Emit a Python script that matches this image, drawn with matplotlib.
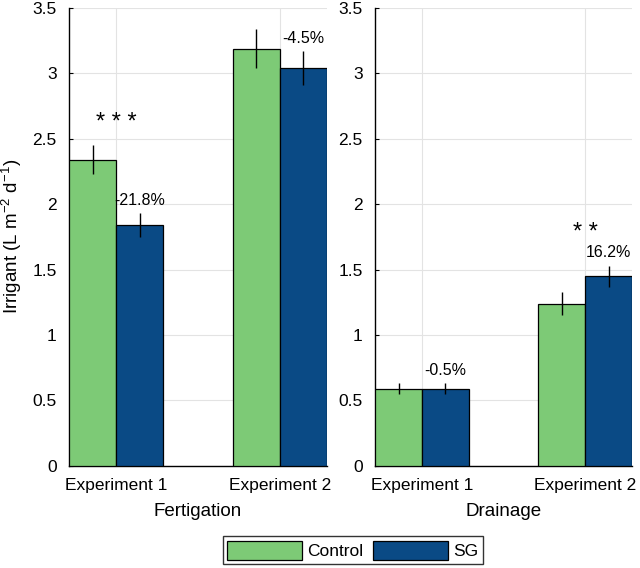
import numpy as np
import matplotlib.pyplot as plt

plt.rcParams['font.family'] = ['Liberation Sans', 'DejaVu Sans']

# data
experiments = ["Experiment 1", "Experiment 2"]
panels = ["Fertigation", "Drainage"]
control_mean = [[2.34, 3.19], [0.59, 1.24]]
control_err = [[0.11, 0.15], [0.04, 0.09]]
sg_mean = [[1.84, 3.04], [0.59, 1.45]]
sg_err = [[0.09, 0.13], [0.04, 0.08]]
pct_labels = [["-21.8%", "-4.5%"], ["-0.5%", "16.2%"]]
signif = [["* * *", ""], ["", "* *"]]
yticks = [0, 0.5, 1, 1.5, 2, 2.5, 3, 3.5]
ytick_labels = ["0", "0.5", "1", "1.5", "2", "2.5", "3", "3.5"]

green = "#7dca76"
blue = "#0a4a85"
bw = 0.287

fig = plt.figure(figsize=(6.4, 5.68), dpi=100)
ax_pos = [[0.108, 0.180, 0.403, 0.806], [0.586, 0.180, 0.402, 0.806]]

for p in range(2):
    ax = fig.add_axes(ax_pos[p])
    x = np.arange(1, len(experiments) + 1)
    b1 = ax.bar(x - bw / 2, control_mean[p], bw, color=green, edgecolor="black", linewidth=0.9, zorder=3, label="Control")
    b2 = ax.bar(x + bw / 2, sg_mean[p], bw, color=blue, edgecolor="black", linewidth=0.9, zorder=3, label="SG")
    ax.errorbar(x - bw / 2, control_mean[p], yerr=control_err[p], fmt="none", ecolor="black", elinewidth=1, capsize=0, zorder=4)
    ax.errorbar(x + bw / 2, sg_mean[p], yerr=sg_err[p], fmt="none", ecolor="black", elinewidth=1, capsize=0, zorder=4)

    for i in range(len(experiments)):
        top = sg_mean[p][i] + sg_err[p][i]
        ax.text(x[i] + bw / 2, top + 0.04, pct_labels[p][i], ha="center", va="bottom", fontsize=11.5, zorder=5)
        if signif[p][i]:
            hi = max(control_mean[p][i] + control_err[p][i], top)
            ax.text(x[i], hi + 0.17 if p == 0 else hi + 0.25, signif[p][i], ha="center", va="center", fontsize=17, zorder=5)

    ax.set_xlim(1 - bw - 0.001, 2 + bw + 0.001)
    ax.set_ylim(0, 3.5)
    ax.set_xticks(x)
    ax.set_xticklabels(experiments, fontsize=12.5)
    ax.set_yticks(yticks)
    ax.set_yticklabels(ytick_labels, fontsize=12.5)
    ax.set_xlabel(panels[p], fontsize=13.5, labelpad=7)
    ax.grid(True, color="#e3e3e3", linewidth=0.8, zorder=0)
    ax.set_axisbelow(True)
    for s in ["top", "right"]:
        ax.spines[s].set_visible(False)
    for s in ["left", "bottom"]:
        ax.spines[s].set_linewidth(1.0)
    ax.tick_params(axis="y", direction="in", length=3, pad=9)
    ax.tick_params(axis="x", direction="in", length=3, pad=9)
    if p == 0:
        ax.set_ylabel("Irrigant (L m$^{\\mathregular{-2}}$ d$^{\\mathregular{-1}}$)", fontsize=13.5, labelpad=6)

fig.legend([b1, b2], ["Control", "SG"], loc="lower center", bbox_to_anchor=(0.551, -0.008), ncol=2,
           fontsize=12.5, frameon=True, fancybox=False, edgecolor="black", handlelength=4.3,
           handleheight=1.3, columnspacing=0.6, handletextpad=0.3, borderpad=0.25)

plt.savefig("out.png", dpi=100)
